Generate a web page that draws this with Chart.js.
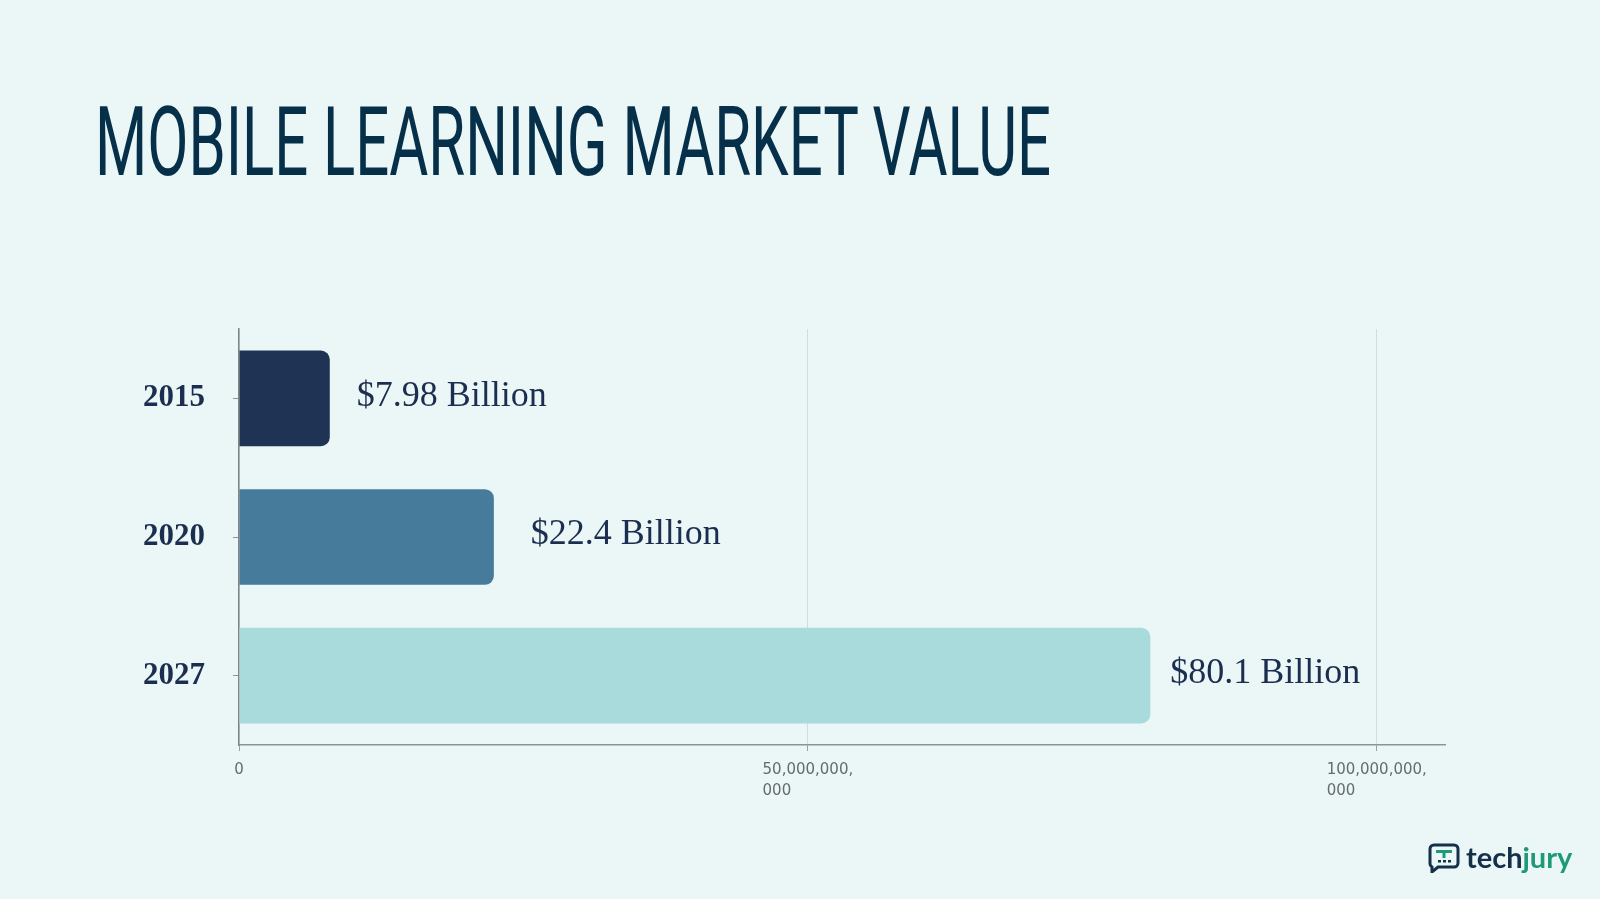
<!DOCTYPE html>
<html>
<head>
<meta charset="utf-8">
<title>Mobile Learning Market Value</title>
<script src="https://cdn.jsdelivr.net/npm/chart.js@4"></script>
<style>
  html, body { margin: 0; padding: 0; background: #ebf7f7; }
  #page { position: relative; width: 1600px; height: 899px; overflow: hidden; }
  #title {
    position: absolute; left: 95px; top: 94px; margin: 0;
    font-family: "Roboto", sans-serif; font-weight: 400; font-size: 97px; line-height: 1;
    color: #062f49; white-space: nowrap; transform-origin: 0 0; letter-spacing: 0;
  }
  #chart-box { position: absolute; left: 0; top: 0; width: 1600px; height: 899px; }
  #logo { position: absolute; left: 1428px; top: 843px; display: flex; align-items: center; gap: 6px;
    font-family: "Lato", sans-serif; font-size: 29px; font-weight: 700; line-height: 1; }
  #logo .tech { color: #15304a; }
  #logo .jury { color: #1f9a78; }
</style>
</head>
<body>
<div id="page">
  <div id="chart-box"><canvas id="chart"></canvas></div>
  <h1 id="title">MOBILE LEARNING MARKET VALUE</h1>
  <div id="logo">
    <svg width="32" height="30" viewBox="0 0 32 30">
      <path d="M6 2 h20 a4 4 0 0 1 4 4 v14 a4 4 0 0 1 -4 4 h-16 l-6 5 v-5 a4 4 0 0 1 -2 -4 v-14 a4 4 0 0 1 4 -4 z"
            fill="none" stroke="#15304a" stroke-width="3"/>
      <rect x="8" y="7" width="16" height="3" fill="#1f9a78"/>
      <rect x="14.5" y="7" width="3" height="8" fill="#1f9a78"/>
      <rect x="10" y="17" width="3" height="2.5" fill="#15304a"/>
      <rect x="15" y="17" width="3" height="2.5" fill="#15304a"/>
      <rect x="20" y="17" width="3" height="2.5" fill="#15304a"/>
    </svg>
    <span style="margin-top:-3px"><span class="tech">tech</span><span class="jury">jury</span></span>
  </div>
</div>
<script>
// chart data
const years = ['2015', '2020', '2027'];
const marketValue = [7.98e9, 22.4e9, 80.1e9];
const valueLabels = ['$7.98 Billion', '$22.4 Billion', '$80.1 Billion'];
const xTicks = [0, 50e9, 100e9];

const barColors = ['#1f3354', '#467b9c', '#a9dadc'];
const labelGap = [27, 37, 20];

document.addEventListener('DOMContentLoaded', () => {
  // squeeze the title into a condensed look
  const title = document.getElementById('title');
  const w = title.getBoundingClientRect().width;
  title.style.transform = 'scaleX(' + (956 / w) + ')';

  const measure = document.createElement('canvas').getContext('2d');
  const tickFont = '15px "DejaVu Sans"';
  measure.font = tickFont;

  // "50,000,000,000" -> ["50,000,000,", "000"] with the 2nd line left-aligned
  function splitTick(v) {
    const s = v.toLocaleString('en-US');
    if (s.length <= 11) return s;
    const cut = s.lastIndexOf(',') + 1;
    const first = s.slice(0, cut);
    let second = s.slice(cut);
    const target = measure.measureText(first).width;
    while (measure.measureText(second + '\u00a0').width <= target + 1) {
      second += '\u00a0';
    }
    return [first, second];
  }

  const valueLabelPlugin = {
    id: 'valueLabels',
    afterDatasetsDraw(chart) {
      const ctx = chart.ctx;
      const meta = chart.getDatasetMeta(0);
      ctx.save();
      ctx.font = '36px "Liberation Serif"';
      ctx.fillStyle = '#1c2e4f';
      ctx.textAlign = 'left';
      ctx.textBaseline = 'middle';
      meta.data.forEach((bar, i) => {
        ctx.fillText(valueLabels[i], bar.x + labelGap[i], bar.y - 2);
      });
      ctx.restore();
    }
  };

  const ctx = document.getElementById('chart').getContext('2d');
  new Chart(ctx, {
    type: 'bar',
    data: {
      labels: years,
      datasets: [{
        data: marketValue,
        backgroundColor: barColors,
        borderRadius: 9,
        borderSkipped: 'start',
        categoryPercentage: 1,
        barPercentage: 0.69
      }]
    },
    options: {
      indexAxis: 'y',
      responsive: true,
      maintainAspectRatio: false,
      animation: false,
      layout: { padding: { top: 329, left: 143, right: 155, bottom: 0 } },
      plugins: {
        legend: { display: false },
        tooltip: { enabled: false }
      },
      scales: {
        x: {
          min: 0,
          max: 106e9,
          afterFit: (scale) => { scale.height = 154; },
          afterBuildTicks: (scale) => { scale.ticks = xTicks.map(v => ({ value: v })); },
          grid: { color: '#d3dcdc', tickColor: '#9aa0a0', tickLength: 6, lineWidth: 1 },
          border: { color: '#8d9292', width: 1.5 },
          ticks: {
            includeBounds: false,
            maxRotation: 0,
            padding: 9,
            color: '#666b6d',
            font: { family: 'DejaVu Sans', size: 15, lineHeight: 1.4 },
            callback: (v) => splitTick(v)
          }
        },
        y: {
          afterFit: (scale) => { scale.width = 96; },
          grid: { drawOnChartArea: false, offset: false, tickColor: '#8d9292', tickLength: 6 },
          border: { color: '#7f8585', width: 1.5 },
          ticks: {
            crossAlign: 'far',
            color: '#1c2e4f',
            font: { family: 'Liberation Serif', size: 31, weight: 'bold' }
          }
        }
      }
    },
    plugins: [valueLabelPlugin]
  });
});
</script>
</body>
</html>
